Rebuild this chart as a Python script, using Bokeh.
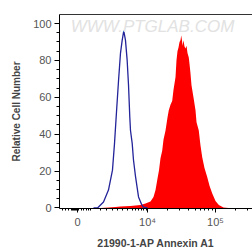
from bokeh.plotting import figure
from bokeh.models import (FixedTicker, CustomJSTickFormatter, LinearAxis, Range1d, Label)
from bokeh.embed import file_html
from bokeh.resources import INLINE
import numpy as np

# x in display (decade) units of a biexponential axis: 0 -> 2.971, 10^4 -> 4, 10^5 -> 5
control_x = [3.206, 3.265, 3.353, 3.426, 3.485, 3.515, 3.544, 3.574, 3.603, 3.628, 3.651,
             3.676, 3.701, 3.721, 3.740, 3.750, 3.775, 3.794, 3.824, 3.868, 3.912, 3.941, 4.000]
control_y = [0, 0, 3.2, 9.7, 20.5, 35, 52, 69, 84, 91, 96,
             91, 80, 66.5, 49, 42, 35, 26, 17, 6, 2, 0.5, 0]

sample_x = [3.309, 3.426, 3.529, 3.603, 3.750, 3.897, 3.971, 4.044, 4.088, 4.118, 4.147,
            4.169, 4.191, 4.216, 4.235, 4.265, 4.294, 4.313, 4.338, 4.363, 4.382, 4.412,
            4.426, 4.441, 4.456, 4.471, 4.485, 4.496, 4.507, 4.515, 4.529, 4.544, 4.559,
            4.574, 4.588, 4.607, 4.618, 4.632, 4.647, 4.676, 4.706, 4.721, 4.754, 4.779,
            4.804, 4.838, 4.878, 4.912, 4.951, 5.000, 5.049, 5.118, 5.191]
sample_y = [0, 0.3, 0.5, 0.8, 1.1, 1.6, 2.4, 3.5, 6, 9.7, 16,
            20.5, 27, 31, 37, 42, 49, 53, 56, 58, 64, 71,
            80, 85, 87, 90, 91, 93.5, 91, 88, 91, 87.5, 86.5,
            88, 84, 81.6, 78, 73, 66.5, 60, 53, 46.5, 42, 34,
            27.6, 21.6, 16.8, 12, 8, 3.8, 1.6, 0.3, 0]

x_major_ticks = [2.971, 4.0, 5.0]
x_major_labels = ["0", "10\u2074", "10\u2075"]
x_minor_low = [2.750, 2.794, 2.838, 2.882, 2.897, 2.912, 2.926, 2.941, 2.956, 2.985,
               3.029, 3.059, 3.103, 3.132, 3.162, 3.309, 3.397, 3.485, 3.559, 3.628,
               3.701, 3.775, 3.824, 3.872, 3.907, 3.946, 3.981]
x_minor = x_minor_low + [4 + np.log10(k) for k in range(2, 10)] + [5 + np.log10(k) for k in (2, 3)]

xlabel = "21990-1-AP Annexin A1"
ylabel = "Relative Cell Number"

p = figure(width=252, height=252, output_backend="svg", toolbar_location=None,
           x_range=Range1d(2.706, 5.544), y_range=Range1d(-0.3, 104.9),
           min_border_left=59, min_border_right=0, min_border_top=14, min_border_bottom=44)
p.outline_line_color = None
p.xgrid.visible = False
p.ygrid.visible = False
p.background_fill_color = "white"
p.border_fill_color = "white"

# watermark
p.add_layout(Label(x=2.87, y=98.4, text="WWW.PTGLAB.COM", text_font="Liberation Sans",
                   text_font_style="italic", text_font_size="17px", text_color="#e2e2e2",
                   text_baseline="middle"))

p.varea(x=sample_x, y1=[0] * len(sample_x), y2=sample_y, fill_color="#ff0000")
p.line(control_x, control_y, line_color="#23239a", line_width=1.3)

# x axis
xa = p.xaxis[0]
xa.ticker = FixedTicker(ticks=x_major_ticks, minor_ticks=x_minor)
xa.formatter = CustomJSTickFormatter(args=dict(t=x_major_ticks, l=x_major_labels), code="""
for (let i = 0; i < t.length; i++) { if (Math.abs(tick - t[i]) < 0.01) return l[i]; }
return "";
""")
xa.axis_label = xlabel
xa.axis_label_text_font = "Liberation Sans"
xa.axis_label_text_font_style = "bold"
xa.axis_label_text_font_size = "10.5px"
xa.axis_label_standoff = 6
xa.major_label_text_font = "Liberation Sans"
xa.major_label_text_font_size = "11px"
xa.major_label_text_color = "#555555"
xa.major_label_standoff = 3
xa.major_tick_in = 0
xa.major_tick_out = 4
xa.minor_tick_in = 0
xa.minor_tick_out = 2
xa.axis_line_color = "black"

# y axis
ya = p.yaxis[0]
ya.ticker = FixedTicker(ticks=[0, 20, 40, 60, 80, 100],
                        minor_ticks=list(range(0, 105, 5)))
ya.axis_label = ylabel
ya.axis_label_text_font = "Liberation Sans"
ya.axis_label_text_font_style = "bold"
ya.axis_label_text_font_size = "10px"
ya.axis_label_standoff = 8
ya.major_label_text_font = "Liberation Sans"
ya.major_label_text_font_size = "11px"
ya.major_label_text_color = "#555555"
ya.major_label_standoff = 3
ya.major_tick_in = 0
ya.major_tick_out = 5
ya.minor_tick_in = 0
ya.minor_tick_out = 3
ya.axis_line_color = "black"

# top border line
top = LinearAxis(ticker=FixedTicker(ticks=[]), major_tick_out=0, major_tick_in=0,
                 minor_tick_out=0, minor_tick_in=0, axis_line_color="#333333",
                 major_label_text_font_size="0px")
p.add_layout(top, "above")

open("out.html", "w").write(file_html(p, INLINE))
